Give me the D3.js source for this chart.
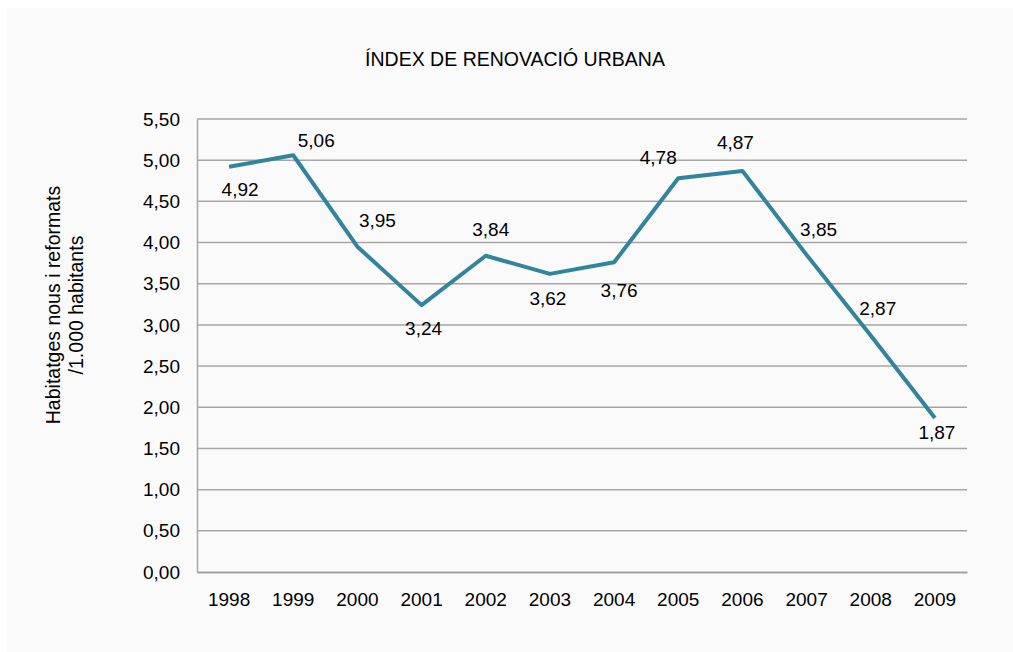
<!DOCTYPE html>
<html>
<head>
<meta charset="utf-8">
<title>Índex de renovació urbana</title>
<script src="https://d3js.org/d3.v7.min.js"></script>
<style>
body{margin:0;background:#fff;}
svg text{font-family:"Liberation Sans",Arial,sans-serif;fill:#000;}
</style>
</head>
<body>
<svg class="chart"></svg>
<script>
// data
var years=['1998','1999','2000','2001','2002','2003','2004','2005','2006','2007','2008','2009'];
var values=[4.92,5.06,3.95,3.24,3.84,3.62,3.76,4.78,4.87,3.85,2.87,1.87];
var yTicks=[0,0.5,1,1.5,2,2.5,3,3.5,4,4.5,5,5.5];
var title='ÍNDEX DE RENOVACIÓ URBANA';
var yTitle=['Habitatges nous i reformats','/1.000 habitants'];

// where each value label sits relative to its point (dx,dy)
var labelOffsets=[[11,23],[23,-15],[20,-26],[2,23],[5,-26],[-2,25],[5,28],[-20,-21],[-7,-29],[12,-26],[7,-27],[2,14]];

var W=1013,H=652;
var margin={left:197,right:46,top:119,bottom:80};

var chart=d3.select('.chart').attr('width',W).attr('height',H);

chart.append('rect')
	.attr('x',7).attr('y',8)
	.attr('width',W-7).attr('height',H-8)
	.attr('fill','#fafafa');

var x=d3.scaleBand().domain(years).range([margin.left,W-margin.right]);
var y=d3.scaleLinear().domain([0,5.5]).range([H-margin.bottom,margin.top]);
var fmt=function(v){return d3.format('.2f')(v).replace('.',',');};

// gridlines
chart.append('g').selectAll('line').data(yTicks.filter(function(d){return d>0;})).enter()
	.append('line')
	.attr('x1',margin.left).attr('x2',W-margin.right)
	.attr('y1',function(d){return y(d);}).attr('y2',function(d){return y(d);})
	.attr('stroke','#a6a6a6').attr('stroke-width',1.5);

// y axis
var yAxis=chart.append('g')
	.attr('transform','translate('+margin.left+',0)')
	.call(d3.axisLeft(y).tickValues(yTicks).tickFormat(fmt).tickSize(0).tickPadding(17));
yAxis.select('.domain').attr('stroke','#a6a6a6').attr('stroke-width',1.5);
yAxis.selectAll('text').attr('font-size','19px').attr('fill','#000')
	.style('font-family','"Liberation Sans",Arial,sans-serif');

// x axis
var xAxis=chart.append('g')
	.attr('transform','translate(0,'+y(0)+')')
	.call(d3.axisBottom(x).tickSize(0).tickPadding(21));
xAxis.select('.domain').attr('stroke','#a0a0a0').attr('stroke-width',2);
xAxis.selectAll('text').attr('font-size','19px').attr('fill','#000')
	.style('font-family','"Liberation Sans",Arial,sans-serif');

// line
var line=d3.line()
	.x(function(d,i){return x(years[i])+x.bandwidth()/2;})
	.y(function(d){return y(d);});

chart.append('path').datum(values)
	.attr('d',line)
	.attr('fill','none')
	.attr('stroke','#31849b')
	.attr('stroke-width',4)
	.attr('stroke-linejoin','round');

// value labels
chart.append('g').selectAll('text').data(values).enter()
	.append('text')
	.attr('x',function(d,i){return x(years[i])+x.bandwidth()/2+labelOffsets[i][0];})
	.attr('y',function(d,i){return y(d)+labelOffsets[i][1];})
	.attr('dy','0.35em')
	.attr('text-anchor','middle')
	.attr('font-size','19px')
	.text(fmt);

// title
chart.append('text')
	.attr('x',515).attr('y',59)
	.attr('dy','0.35em')
	.attr('text-anchor','middle')
	.attr('font-size','19.5px')
	.text(title);

// y axis title
chart.append('text')
	.attr('transform','translate(60,305) rotate(-90)')
	.attr('text-anchor','middle')
	.attr('font-size','19.5px')
	.selectAll('tspan').data(yTitle).enter()
	.append('tspan')
	.attr('x',0)
	.attr('dy',function(d,i){return i==0?'0':'1.2em';})
	.text(function(d){return d;});
</script>
</body>
</html>
